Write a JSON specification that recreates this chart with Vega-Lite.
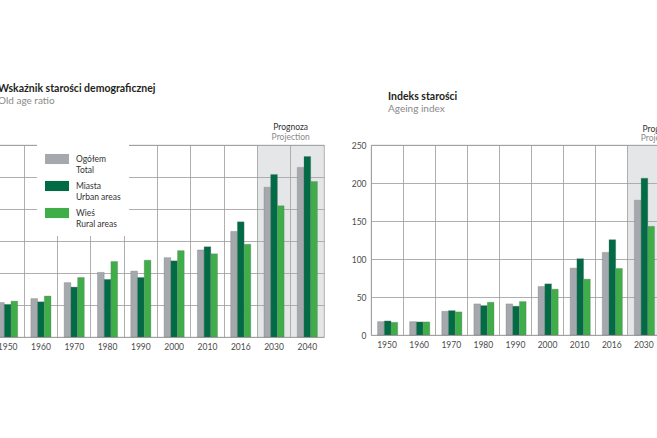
{
  "$schema": "https://vega.github.io/schema/vega-lite/v6.json",
  "padding": {"left": -25, "top": 83, "right": -36, "bottom": 5},
  "background": "white",
  "spacing": 25,
  "datasets": {
    "old": [
      {"year": "1950", "group": "Ogółem", "value": 5.4}, {"year": "1950", "group": "Miasta", "value": 5.1}, {"year": "1950", "group": "Wieś", "value": 5.6},
      {"year": "1960", "group": "Ogółem", "value": 6.0}, {"year": "1960", "group": "Miasta", "value": 5.5}, {"year": "1960", "group": "Wieś", "value": 6.4},
      {"year": "1970", "group": "Ogółem", "value": 8.5}, {"year": "1970", "group": "Miasta", "value": 7.8}, {"year": "1970", "group": "Wieś", "value": 9.3},
      {"year": "1980", "group": "Ogółem", "value": 10.1}, {"year": "1980", "group": "Miasta", "value": 9.0}, {"year": "1980", "group": "Wieś", "value": 11.8},
      {"year": "1990", "group": "Ogółem", "value": 10.3}, {"year": "1990", "group": "Miasta", "value": 9.3}, {"year": "1990", "group": "Wieś", "value": 12.0},
      {"year": "2000", "group": "Ogółem", "value": 12.4}, {"year": "2000", "group": "Miasta", "value": 11.9}, {"year": "2000", "group": "Wieś", "value": 13.5},
      {"year": "2010", "group": "Ogółem", "value": 13.6}, {"year": "2010", "group": "Miasta", "value": 14.1}, {"year": "2010", "group": "Wieś", "value": 13.0},
      {"year": "2016", "group": "Ogółem", "value": 16.5}, {"year": "2016", "group": "Miasta", "value": 18.0}, {"year": "2016", "group": "Wieś", "value": 14.5},
      {"year": "2030", "group": "Ogółem", "value": 23.4}, {"year": "2030", "group": "Miasta", "value": 25.4}, {"year": "2030", "group": "Wieś", "value": 20.5},
      {"year": "2040", "group": "Ogółem", "value": 26.5}, {"year": "2040", "group": "Miasta", "value": 28.2}, {"year": "2040", "group": "Wieś", "value": 24.3}
    ],
    "ageing": [
      {"year": "1950", "group": "Ogółem", "value": 17.6}, {"year": "1950", "group": "Miasta", "value": 18.5}, {"year": "1950", "group": "Wieś", "value": 16.7},
      {"year": "1960", "group": "Ogółem", "value": 17.6}, {"year": "1960", "group": "Miasta", "value": 17.2}, {"year": "1960", "group": "Wieś", "value": 17.2},
      {"year": "1970", "group": "Ogółem", "value": 31.2}, {"year": "1970", "group": "Miasta", "value": 32.1}, {"year": "1970", "group": "Wieś", "value": 30.4},
      {"year": "1980", "group": "Ogółem", "value": 40.9}, {"year": "1980", "group": "Miasta", "value": 38.7}, {"year": "1980", "group": "Wieś", "value": 43.1},
      {"year": "1990", "group": "Ogółem", "value": 40.9}, {"year": "1990", "group": "Miasta", "value": 37.9}, {"year": "1990", "group": "Wieś", "value": 44.0},
      {"year": "2000", "group": "Ogółem", "value": 63.8}, {"year": "2000", "group": "Miasta", "value": 67.3}, {"year": "2000", "group": "Wieś", "value": 60.3},
      {"year": "2010", "group": "Ogółem", "value": 88.0}, {"year": "2010", "group": "Miasta", "value": 100.4}, {"year": "2010", "group": "Wieś", "value": 73.5},
      {"year": "2016", "group": "Ogółem", "value": 108.7}, {"year": "2016", "group": "Miasta", "value": 125.4}, {"year": "2016", "group": "Wieś", "value": 87.6},
      {"year": "2030", "group": "Ogółem", "value": 177.4}, {"year": "2030", "group": "Miasta", "value": 206.4}, {"year": "2030", "group": "Wieś", "value": 143.0}
    ],
    "proj": [{"year": "2030"}, {"year": "2040"}],
    "projlabel": [{"year": "2030", "pl": "Prognoza", "en": "Projection"}]
  },
  "config": {
    "font": "Lato",
    "view": {"stroke": "#9a9a9a", "strokeWidth": 0.8},
    "axis": {
      "gridColor": "#9a9a9a", "gridWidth": 0.8, "gridOpacity": 1, "grid": true,
      "labelFont": "Lato", "labelFontSize": 8.5, "labelColor": "#4a4a4a",
      "ticks": false, "domain": false, "title": null, "labelPadding": 5
    },
    "axisX": {"bandPosition": 0, "labelAngle": 0, "grid": true},
    "axisY": {"tickCount": 6, "grid": true},
    "title": {
      "font": "Lato", "fontSize": 10.5, "fontWeight": "bold", "color": "#231f20",
      "subtitleFont": "Lato", "subtitleFontSize": 10, "subtitleColor": "#8a8a8a",
      "subtitlePadding": 2, "anchor": "start", "frame": "group", "offset": 17
    }
  },
  "hconcat": [
    {
      "width": 333,
      "height": 192,
      "title": {"text": "Wskaźnik starości demograficznej", "subtitle": "Old age ratio", "dx": 7},
      "layer": [
        {
          "data": {"name": "proj"},
          "mark": {"type": "bar", "color": "#a9acaf", "opacity": 0.3},
          "encoding": {
            "x": {"field": "year", "type": "nominal", "sort": null,
                  "scale": {"domain": ["1950","1960","1970","1980","1990","2000","2010","2016","2030","2040"], "paddingInner": 0, "paddingOuter": 0}},
            "y": {"datum": 30, "type": "quantitative",
                  "scale": {"domain": [0, 30], "nice": false}}
          }
        },
        {
          "data": {"name": "old"},
          "mark": {"type": "bar", "stroke": "#6d6e71", "strokeWidth": 0.3},
          "encoding": {
            "x": {"field": "year", "type": "nominal", "sort": null},
            "xOffset": {"field": "group", "type": "nominal", "sort": ["Ogółem", "Miasta", "Wieś"],
                        "scale": {"paddingInner": 0, "paddingOuter": 0.98}},
            "y": {"field": "value", "type": "quantitative"},
            "color": {"field": "group", "type": "nominal",
                      "scale": {"domain": ["Ogółem", "Miasta", "Wieś"], "range": ["#a5a9ad", "#006b45", "#3fae49"]},
                      "legend": {
                        "orient": "none", "legendX": 46, "legendY": -6,
                        "title": null, "fillColor": "white", "padding": 8,
                        "symbolType": "M-1,-0.42L1,-0.42L1,0.42L-1,0.42Z", "symbolSize": 576,
                        "symbolStrokeWidth": 0, "symbolOpacity": 1,
                        "labelExpr": "datum.label == 'Ogółem' ? ['Ogółem', 'Total'] : datum.label == 'Miasta' ? ['Miasta', 'Urban areas'] : ['Wieś', 'Rural areas']",
                        "labelFont": "Lato", "labelFontSize": 8.5, "labelColor": "#333333", "labelLineHeight": 10,
                        "labelOffset": 7, "rowPadding": -5, "labelBaseline": "middle"
                      }}
          }
        },
        {
          "data": {"name": "projlabel"},
          "mark": {"type": "text", "dy": -18, "font": "Lato", "fontSize": 8.5, "color": "#333333"},
          "encoding": {
            "x": {"field": "year", "type": "nominal", "bandPosition": 1},
            "y": {"datum": 30, "type": "quantitative"},
            "text": {"field": "pl"}
          }
        },
        {
          "data": {"name": "projlabel"},
          "mark": {"type": "text", "dy": -8, "font": "Lato", "fontSize": 8.5, "color": "#8a8a8a"},
          "encoding": {
            "x": {"field": "year", "type": "nominal", "bandPosition": 1},
            "y": {"datum": 30, "type": "quantitative"},
            "text": {"field": "en"}
          }
        }
      ]
    },
    {
      "width": 321,
      "height": 190,
      "title": {"text": "Indeks starości", "subtitle": "Ageing index", "dx": 17, "dy": 6},
      "layer": [
        {
          "data": {"name": "proj"},
          "mark": {"type": "bar", "color": "#a9acaf", "opacity": 0.3},
          "encoding": {
            "x": {"field": "year", "type": "nominal", "sort": null,
                  "scale": {"domain": ["1950","1960","1970","1980","1990","2000","2010","2016","2030","2040"], "paddingInner": 0, "paddingOuter": 0}},
            "y": {"datum": 250, "type": "quantitative",
                  "scale": {"domain": [0, 250], "nice": false}}
          }
        },
        {
          "data": {"name": "ageing"},
          "mark": {"type": "bar", "stroke": "#6d6e71", "strokeWidth": 0.3},
          "encoding": {
            "x": {"field": "year", "type": "nominal", "sort": null},
            "xOffset": {"field": "group", "type": "nominal", "sort": ["Ogółem", "Miasta", "Wieś"],
                        "scale": {"paddingInner": 0, "paddingOuter": 1.05}},
            "y": {"field": "value", "type": "quantitative"},
            "color": {"field": "group", "type": "nominal",
                      "scale": {"domain": ["Ogółem", "Miasta", "Wieś"], "range": ["#a5a9ad", "#006b45", "#3fae49"]},
                      "legend": null}
          }
        },
        {
          "data": {"name": "projlabel"},
          "mark": {"type": "text", "dy": -16, "font": "Lato", "fontSize": 8.5, "color": "#333333"},
          "encoding": {
            "x": {"field": "year", "type": "nominal", "bandPosition": 1},
            "y": {"datum": 250, "type": "quantitative"},
            "text": {"field": "pl"}
          }
        },
        {
          "data": {"name": "projlabel"},
          "mark": {"type": "text", "dy": -7, "font": "Lato", "fontSize": 8.5, "color": "#8a8a8a"},
          "encoding": {
            "x": {"field": "year", "type": "nominal", "bandPosition": 1},
            "y": {"datum": 250, "type": "quantitative"},
            "text": {"field": "en"}
          }
        }
      ]
    }
  ],
  "resolve": {"scale": {"color": "shared"}}
}
